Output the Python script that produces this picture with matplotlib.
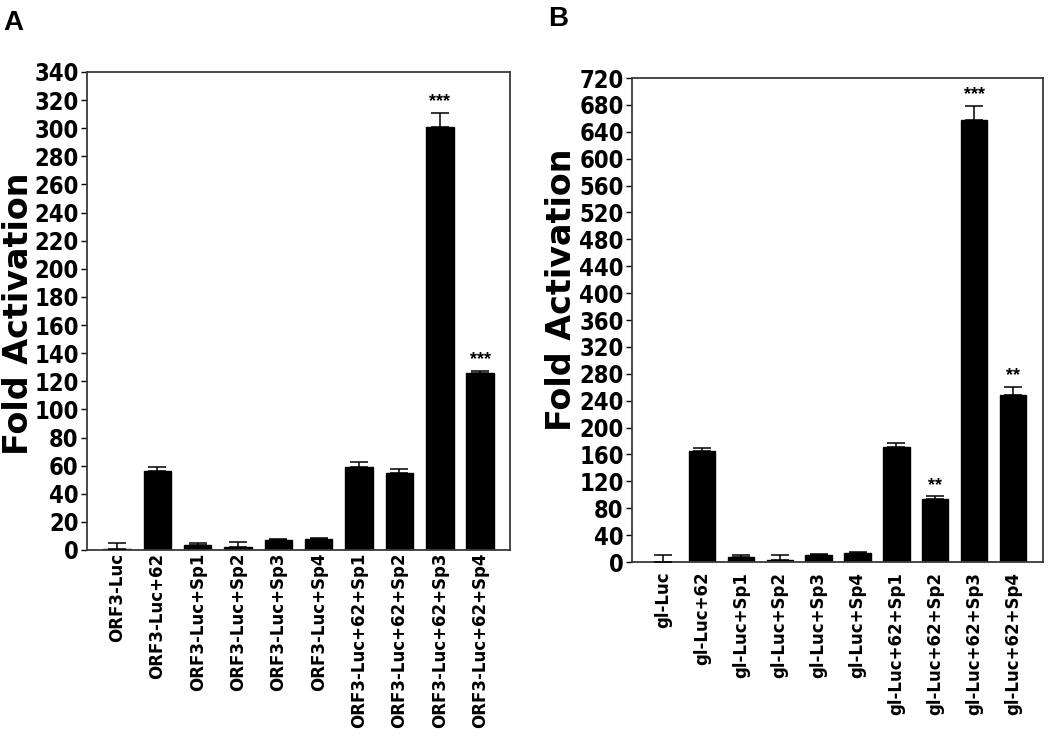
import numpy as np
import matplotlib
matplotlib.use("Agg")
import matplotlib.pyplot as plt

# Panel A data
labels_a = ["ORF3-Luc", "ORF3-Luc+62", "ORF3-Luc+Sp1", "ORF3-Luc+Sp2", "ORF3-Luc+Sp3",
            "ORF3-Luc+Sp4", "ORF3-Luc+62+Sp1", "ORF3-Luc+62+Sp2", "ORF3-Luc+62+Sp3",
            "ORF3-Luc+62+Sp4"]
values_a = [0.8, 56.4, 3.5, 2.0, 7.1, 7.8, 59.0, 54.5, 300.7, 126.0]
errors_a = [4.5, 2.4, 1.2, 3.4, 0.9, 0.7, 3.6, 2.8, 10.3, 1.5]
stars_a = ["", "", "", "", "", "", "", "", "***", "***"]

# Panel B data
labels_b = ["gl-Luc", "gl-Luc+62", "gl-Luc+Sp1", "gl-Luc+Sp2", "gl-Luc+Sp3",
            "gl-Luc+Sp4", "gl-Luc+62+Sp1", "gl-Luc+62+Sp2", "gl-Luc+62+Sp3",
            "gl-Luc+62+Sp4"]
values_b = [0.5, 165, 7.7, 3.0, 10.8, 13.3, 171, 93.4, 657, 248]
errors_b = [10.5, 4.5, 2.3, 8.0, 0.7, 1.1, 6.0, 4.1, 22, 12]
stars_b = ["", "", "", "", "", "", "", "**", "***", "**"]

num_font = ["DejaVu Sans"]
lab_font = ["DejaVu Sans"]

fig = plt.figure(figsize=(10.5, 7.43), dpi=100)


def draw_panel(ax, labels, values, errors, stars, ymax, step, star_gap, xlim, pad):
    x = np.arange(len(labels))
    ax.bar(x, values, width=0.68, color="black", edgecolor="black", zorder=2)
    ax.errorbar(x, values, yerr=[np.zeros(len(values)), errors], fmt="none",
                ecolor="black", elinewidth=1.1, capsize=6.5, capthick=1.1, zorder=3)
    for xi, v, e, s in zip(x, values, errors, stars):
        if s:
            ax.text(xi, v + e + star_gap, s, ha="center", va="bottom",
                    fontsize=13, fontweight="bold", family=["Liberation Sans"])
    ax.set_xlim(*xlim)
    ax.set_ylim(0, ymax)
    ticks = np.arange(0, ymax + 1, step)
    ax.set_yticks(ticks)
    ax.set_yticklabels([str(v) for v in ticks], fontsize=17, fontweight="bold",
                       family=num_font, fontstretch="condensed")
    ax.set_xticks(x)
    ax.set_xticklabels(labels, rotation=90, fontsize=12, fontweight="bold",
                       family=lab_font)
    ax.tick_params(axis="x", length=0, pad=pad)
    ax.tick_params(axis="y", length=4, width=1, pad=2)
    for sp in ax.spines.values():
        sp.set_linewidth(1.3)
        sp.set_color("#3a3a3a")


ax_a = fig.add_axes([0.0829, 0.2598, 0.4029, 0.6433])
draw_panel(ax_a, labels_a, values_a, errors_a, stars_a, 340, 20, 2,
           (-0.74, 9.74), 2)

ax_b = fig.add_axes([0.6019, 0.2436, 0.3914, 0.6514])
draw_panel(ax_b, labels_b, values_b, errors_b, stars_b, 720, 40, 4,
           (-0.8, 9.77), 7)

fig.text(0.018, 0.578, "Fold Activation", rotation=90, ha="center", va="center",
         fontsize=24, fontweight="bold", family=lab_font)
fig.text(0.535, 0.61, "Fold Activation", rotation=90, ha="center", va="center",
         fontsize=24, fontweight="bold", family=lab_font)

fig.text(0.003, 0.986, "A", fontsize=20, fontweight="bold", family=["Liberation Sans"], va="top")
fig.text(0.522, 0.992, "B", fontsize=20, fontweight="bold", family=["Liberation Sans"], va="top")

plt.savefig("out.png", dpi=100)
